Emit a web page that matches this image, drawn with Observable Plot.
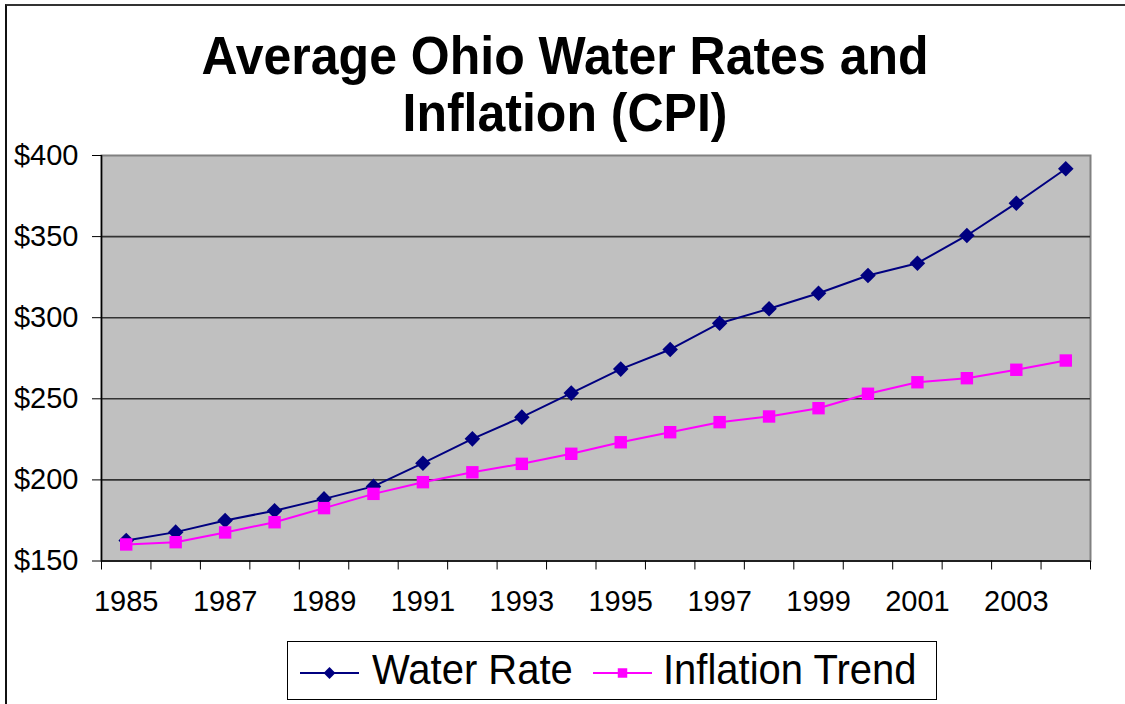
<!DOCTYPE html>
<html>
<head>
<meta charset="utf-8">
<script src="https://cdn.jsdelivr.net/npm/d3@7"></script>
<script src="https://cdn.jsdelivr.net/npm/@observablehq/plot@0.6"></script>
<style>
  html, body { margin: 0; padding: 0; background: #fff; }
  #page { position: relative; width: 1125px; height: 704px; overflow: hidden; font-family: "Liberation Sans", Arial, sans-serif; color: #000; }
  #frame { position: absolute; left: 5px; top: 4px; width: 1130px; height: 710px; border-left: 2px solid #111; border-top: 2px solid #333; }
  .title { position: absolute; left: 0; width: 1130px; text-align: center; font-weight: bold; font-size: 50px; line-height: 57px; white-space: nowrap; transform: scaleY(1.07); transform-origin: 50% 46px; }
  #chart { position: absolute; left: 0; top: 145px; }
  #legend { position: absolute; left: 287px; top: 641px; width: 648px; height: 57px; border: 1px solid #000; background: #fff; }
  #legend .lbl { position: absolute; font-size: 40px; line-height: 40px; white-space: nowrap; transform: scaleY(1.06); transform-origin: 0 34px; }
  #legend svg { position: absolute; left: 0; top: 0; }
</style>
</head>
<body>
<div id="page">
  <div id="frame"></div>
  <div class="title" id="t1" style="top:29px"></div>
  <div class="title" id="t2" style="top:86px"></div>
  <div id="chart"></div>
  <div id="legend"></div>
</div>
<script>
const titleLines = ["Average Ohio Water Rates and", "Inflation (CPI)"];
const years = [1985,1986,1987,1988,1989,1990,1991,1992,1993,1994,1995,1996,1997,1998,1999,2000,2001,2002,2003,2004];
const waterRate = [162.6,167.8,175.0,181.0,188.3,196.0,210.3,225.3,238.7,253.5,268.3,280.4,296.6,305.5,315.1,326.0,333.6,350.7,370.6,391.8];
const inflationTrend = [160.2,161.6,167.6,173.9,182.6,191.4,198.6,204.7,209.9,216.1,223.2,229.4,235.6,239.1,244.2,253.1,260.2,262.7,267.9,273.6];
const seriesNames = ["Water Rate", "Inflation Trend"];
const seriesColors = ["#000080", "#FF00FF"];
const seriesSymbols = ["diamond2", "square"];
const yTicks = [150, 200, 250, 300, 350, 400];
const gridValues = [200, 250, 300, 350];
const xTickLabels = [1985,1987,1989,1991,1993,1995,1997,1999,2001,2003];

document.getElementById("t1").textContent = titleLines[0];
document.getElementById("t2").textContent = titleLines[1];

const data = [];
years.forEach((yr, i) => {
  data.push({year: yr, value: waterRate[i], series: seriesNames[0]});
  data.push({year: yr, value: inflationTrend[i], series: seriesNames[1]});
});
const boundaries = years.map(y => y - 0.5).concat([years[years.length - 1] + 0.5]);

const chart = Plot.plot({
  width: 1125,
  height: 480,
  marginTop: 10,
  marginBottom: 64.5,
  marginLeft: 101,
  marginRight: 35,
  style: {fontFamily: '"Liberation Sans", Arial, sans-serif', fontSize: "29px", color: "#000", background: "transparent", overflow: "visible"},
  x: {domain: [boundaries[0], boundaries[boundaries.length - 1]]},
  y: {domain: [150, 400]},
  color: {domain: seriesNames, range: seriesColors},
  symbol: {domain: seriesNames, range: seriesSymbols},
  marks: [
    Plot.frame({fill: "#C0C0C0", stroke: "#808080", strokeWidth: 2}),
    Plot.ruleY(gridValues, {stroke: "#333333", strokeWidth: 1.6}),
    Plot.ruleX([boundaries[0]], {stroke: "#000", strokeWidth: 1.5}),
    Plot.ruleY([150], {stroke: "#000", strokeWidth: 1.5}),
    Plot.axisY({ticks: yTicks, tickFormat: d => "$" + d, tickSize: 9, tickPadding: 14, fontSize: 29, label: null}),
    Plot.axisX({ticks: boundaries, tickFormat: () => "", tickSize: 9, label: null}),
    Plot.axisX({ticks: xTickLabels, tickFormat: d => String(d), tickSize: 0, tickPadding: 29, fontSize: 29, label: null}),
    Plot.line(data, {x: "year", y: "value", stroke: "series", z: "series", strokeWidth: 2}),
    Plot.dot(data, {x: "year", y: "value", fill: "series", symbol: "series", r: 7, stroke: null})
  ]
});
document.getElementById("chart").appendChild(chart);

// Legend
const legend = document.getElementById("legend");
const ns = "http://www.w3.org/2000/svg";
const lsvg = document.createElementNS(ns, "svg");
lsvg.setAttribute("width", 648);
lsvg.setAttribute("height", 57);
const legendItems = [
  {x1: 12, x2: 71, lx: 84},
  {x1: 305, x2: 364, lx: 375}
];
seriesNames.forEach((name, i) => {
  const it = legendItems[i];
  const cy = 31;
  const ln = document.createElementNS(ns, "line");
  ln.setAttribute("x1", it.x1); ln.setAttribute("x2", it.x2);
  ln.setAttribute("y1", cy); ln.setAttribute("y2", cy);
  ln.setAttribute("stroke", seriesColors[i]); ln.setAttribute("stroke-width", 2);
  lsvg.appendChild(ln);
  const p = document.createElementNS(ns, "path");
  const sym = seriesSymbols[i] === "square" ? d3.symbolSquare : d3.symbolDiamond2;
  p.setAttribute("d", d3.symbol(sym, 90)());
  p.setAttribute("transform", `translate(${(it.x1 + it.x2) / 2},${cy})`);
  p.setAttribute("fill", seriesColors[i]);
  lsvg.appendChild(p);
  const s = document.createElement("div");
  s.className = "lbl";
  s.style.left = it.lx + "px";
  s.style.top = "8px";
  s.textContent = name;
  legend.appendChild(s);
});
legend.appendChild(lsvg);
</script>
</body>
</html>
